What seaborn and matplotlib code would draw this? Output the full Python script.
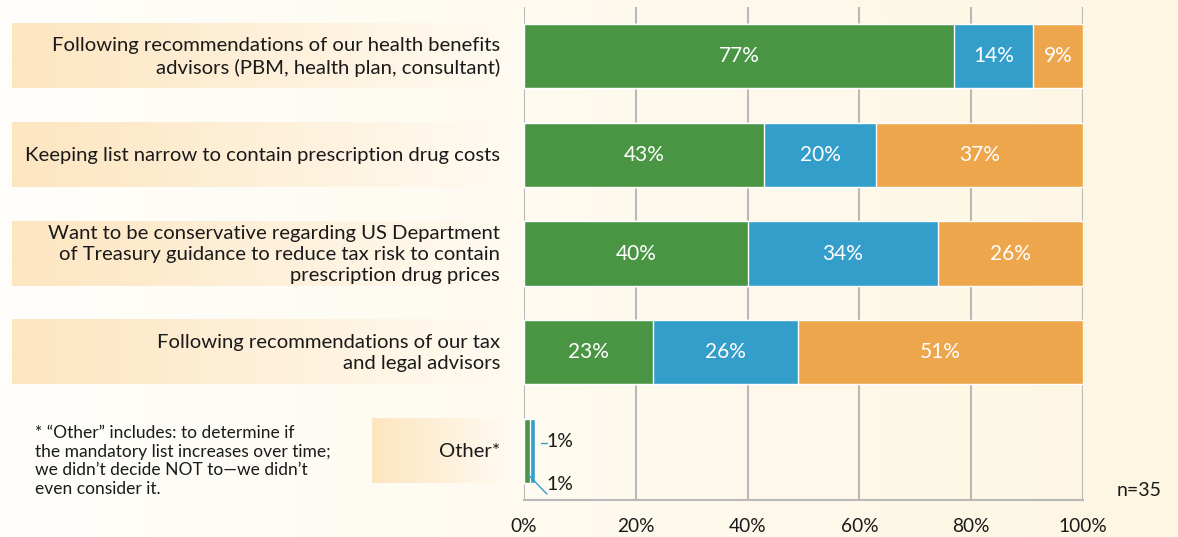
import numpy as np
import pandas as pd
import matplotlib
matplotlib.use("Agg")
import matplotlib.pyplot as plt
import seaborn as sns

# Survey responses (% of respondents), n=35
categories = [
    "Following recommendations of our health benefits\nadvisors (PBM, health plan, consultant)",
    "Keeping list narrow to contain prescription drug costs",
    "Want to be conservative regarding US Department\nof Treasury guidance to reduce tax risk to contain\nprescription drug prices",
    "Following recommendations of our tax\nand legal advisors",
    "Other*",
]
green_vals = [77, 43, 40, 23, 1]
blue_vals = [14, 20, 34, 26, 1]
orange_vals = [9, 37, 26, 51, 0]
tick_values = [0, 20, 40, 60, 80, 100]
tick_labels = ["0%", "20%", "40%", "60%", "80%", "100%"]
footnote = ("* \u201cOther\u201d includes: to determine if\n"
            "the mandatory list increases over time;\n"
            "we didn\u2019t decide NOT to\u2014we didn\u2019t\n"
            "even consider it.")
sample_note = "n=35"

GREEN = "#4a9544"
BLUE = "#349ecb"
ORANGE = "#eda64b"
GRID = "#b8b8b8"
TEXT = "#1a1a1a"

sns.set_theme(style="white")
plt.rcParams["font.family"] = ["Lato", "DejaVu Sans"]

W, H = 1178, 537
fig = plt.figure(figsize=(W / 100, H / 100), dpi=100)

# Background layer in pixel coordinates
bg = fig.add_axes([0, 0, 1, 1], zorder=0)
bg.set_xlim(0, W)
bg.set_ylim(H, 0)
bg.axis("off")
grad = np.linspace(0, 1, 256)[None, :, None]
left_c = np.array([255, 254, 251]) / 255
right_c = np.array([253, 246, 226]) / 255
bg_img = left_c + (right_c - left_c) * grad
bg.imshow(bg_img, extent=[0, W, H, 0], aspect="auto", zorder=0)

df = pd.DataFrame({
    "category": categories,
    "green": green_vals,
    "blue": blue_vals,
    "orange": orange_vals,
})
df["c1"] = df["green"]
df["c2"] = df["green"] + df["blue"]
df["c3"] = df["green"] + df["blue"] + df["orange"]

ax = fig.add_axes([524 / W, 1 - 500 / H, (1083 - 524) / W, (500 - 7) / H], zorder=2)
ax.patch.set_alpha(0)

bar_w = 0.65
sns.barplot(data=df, x="c3", y="category", orient="h", color=ORANGE,
            saturation=1, width=bar_w, ax=ax, zorder=3)
sns.barplot(data=df, x="c2", y="category", orient="h", color=BLUE,
            saturation=1, width=bar_w, ax=ax, zorder=3)
sns.barplot(data=df, x="c1", y="category", orient="h", color=GREEN,
            saturation=1, width=bar_w, ax=ax, zorder=3)

ax.set_xlim(0, 100)
ax.set_ylim(len(categories) - 0.5, -0.5)
ax.set_xticks(tick_values)
ax.set_xticklabels(tick_labels, fontsize=13.8, color=TEXT)
ax.set_yticks([])
ax.set_xlabel("")
ax.set_ylabel("")
for s in ["top", "right", "left"]:
    ax.spines[s].set_visible(False)
ax.spines["bottom"].set_color(GRID)
ax.spines["bottom"].set_linewidth(1.5)
ax.tick_params(axis="x", length=5, width=1.5, color=GRID, pad=8)
for t in tick_values:
    ax.axvline(t, color=GRID, lw=1.5, zorder=1)

# In-bar value labels
for i, row in df.iterrows():
    starts = [0, row["c1"], row["c2"]]
    vals = [row["green"], row["blue"], row["orange"]]
    for s0, v in zip(starts, vals):
        if v >= 5:
            ax.text(s0 + v / 2, i, f"{v}%", ha="center", va="center",
                    color="white", fontsize=15, zorder=5)

# Small values on the last row, with leader lines
last = len(categories) - 1
ax.plot([3.0, 4.2], [last - 0.08, last - 0.08], color=BLUE, lw=1, zorder=4, clip_on=False)
ax.text(4.1, last - 0.09, f"{blue_vals[last]}%", ha="left", va="center",
        fontsize=14, color=TEXT, zorder=5)
ax.plot([0.7, 4.1], [last + 0.24, last + 0.44], color=BLUE, lw=1, zorder=4, clip_on=False)
ax.text(4.1, last + 0.34, f"{green_vals[last]}%", ha="left", va="center",
        fontsize=14, color=TEXT, zorder=5)

# Category label boxes with a horizontal gradient
box_left_c = np.array([253, 229, 192]) / 255
box_right_c = np.array([255, 251, 242]) / 255
box_img = box_left_c + (box_right_c - box_left_c) * grad
fig.canvas.draw()
for i, label in enumerate(categories):
    top_disp = ax.transData.transform((0, i - bar_w / 2))[1]
    bot_disp = ax.transData.transform((0, i + bar_w / 2))[1]
    y_top = H - top_disp
    y_bot = H - bot_disp
    x0 = 372 if i == last else 12
    x1 = 512
    bg.imshow(box_img, extent=[x0, x1, y_bot, y_top], aspect="auto", zorder=1)
    bg.text(500, (y_top + y_bot) / 2 + 1, label, ha="right", va="center",
            fontsize=14.6, color=TEXT, linespacing=1.32, zorder=2)

bg.set_xlim(0, W)
bg.set_ylim(H, 0)

bg.text(35, 461, footnote, ha="left", va="center", fontsize=12.5,
        color=TEXT, linespacing=1.22, zorder=2)
bg.text(1117, 491, sample_note, ha="left", va="center", fontsize=14,
        color=TEXT, zorder=2)

fig.savefig("out.png", dpi=100)
